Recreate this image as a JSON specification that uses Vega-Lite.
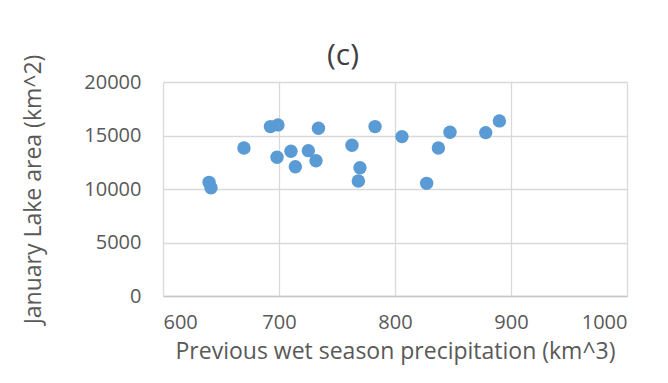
{
  "$schema": "https://vega.github.io/schema/vega-lite/v6.json",
  "autosize": "none",
  "width": 464,
  "height": 214,
  "padding": {"left": 163, "top": 82, "right": 41, "bottom": 87},
  "background": "white",
  "title": {"text": "(c)", "fontSize": 30, "font": "Open Sans", "fontWeight": "normal", "color": "#404040", "anchor": "middle", "dx": -52, "offset": -17},
  "data": {"values": [
    {"precip": 639.7, "area": 10623},
    {"precip": 641.4, "area": 10117},
    {"precip": 669.8, "area": 13836},
    {"precip": 692.6, "area": 15831},
    {"precip": 699.1, "area": 15990},
    {"precip": 698.3, "area": 12963},
    {"precip": 710.3, "area": 13527},
    {"precip": 714.1, "area": 12084},
    {"precip": 725.3, "area": 13583},
    {"precip": 731.9, "area": 12646},
    {"precip": 734.0, "area": 15681},
    {"precip": 762.9, "area": 14089},
    {"precip": 769.8, "area": 11991},
    {"precip": 768.4, "area": 10745},
    {"precip": 782.8, "area": 15831},
    {"precip": 806.0, "area": 14895},
    {"precip": 827.3, "area": 10529},
    {"precip": 837.4, "area": 13836},
    {"precip": 847.4, "area": 15307},
    {"precip": 878.2, "area": 15269},
    {"precip": 890.0, "area": 16365}
  ]},
  "mark": {"type": "circle", "size": 180, "color": "#5B9BD5", "opacity": 1},
  "encoding": {
    "x": {"field": "precip", "type": "quantitative",
      "scale": {"domain": [600, 1000], "nice": false, "zero": false},
      "axis": {"values": [600, 700, 800, 900, 1000], "format": "d", "title": "Previous wet season precipitation (km^3)",
        "grid": true, "gridColor": "#d9d9d9", "gridWidth": 1.3, "ticks": false, "domainColor": "#c8c8c8", "domainWidth": 1.5,
        "labelFont": "Open Sans", "labelFontSize": 20, "labelColor": "#595959", "labelPadding": 16,
        "titleFont": "Open Sans", "titleFontSize": 23, "titleFontWeight": "normal", "titleColor": "#595959", "titlePadding": 8}},
    "y": {"field": "area", "type": "quantitative",
      "scale": {"domain": [0, 20000], "nice": false},
      "axis": {"values": [0, 5000, 10000, 15000, 20000], "format": "d", "title": "January Lake area (km^2)",
        "grid": true, "gridColor": "#d9d9d9", "gridWidth": 1.3, "ticks": false, "domain": false,
        "labelFont": "Open Sans", "labelFontSize": 20, "labelColor": "#595959", "labelPadding": 22,
        "titleFont": "Open Sans", "titleFontSize": 23, "titleFontWeight": "normal", "titleColor": "#595959", "titlePadding": 38}}
  },
  "config": {"view": {"stroke": null}}
}
